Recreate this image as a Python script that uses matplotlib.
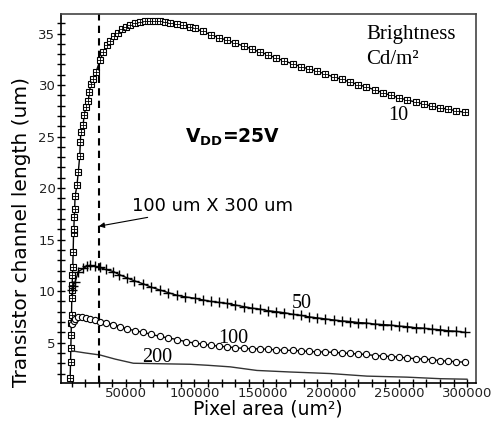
import matplotlib.pyplot as plt
from matplotlib.ticker import MultipleLocator

# Brightness 10 Cd/m2 (squares)
x10 = [9000, 9300, 9500, 9700, 9900, 10000, 10200, 10300, 10500, 10700,
       10900, 11200, 11500, 11700, 12000, 12300, 12600, 14000, 15000, 16000,
       16500, 16800, 18500, 19200, 20700, 22400, 22900, 24300, 26000, 28000,
       30900, 33300, 35800, 38300, 41200, 44000, 46800, 50000, 52900, 56500,
       60200, 64000, 67600, 71200, 74900, 78500, 82200, 87000, 92000, 96500,
       100600, 106000, 112000, 118000, 124000, 130000, 136000, 142000, 148000,
       154000, 160000, 166000, 172000, 178000, 184000, 190000, 196000, 202000,
       208000, 214000, 220000, 226000, 232000, 238000, 244000, 250000, 256000,
       262000, 268000, 274000, 280000, 286000, 292000, 298000]
y10 = [1.6, 3.1, 4.5, 5.7, 6.9, 7.7, 9.3, 10.1, 10.6, 11.6,
       12.3, 13.8, 15.6, 16.0, 17.2, 18.0, 19.2, 20.3, 21.6, 23.1,
       24.5, 25.4, 26.1, 27.1, 27.9, 28.5, 29.3, 30.1, 30.6, 31.3,
       32.4, 33.2, 33.9, 34.3, 34.8, 35.1, 35.4, 35.6, 35.8, 36.0,
       36.1, 36.2, 36.25, 36.25, 36.2, 36.1, 36.0, 35.9, 35.8, 35.6,
       35.5, 35.2, 34.9, 34.6, 34.35, 34.05, 33.8, 33.5, 33.2,
       32.95, 32.6, 32.35, 32.05, 31.8, 31.55, 31.35, 31.05, 30.8,
       30.55, 30.3, 30.05, 29.8, 29.55, 29.25, 29.0, 28.75, 28.55,
       28.35, 28.15, 27.95, 27.8, 27.65, 27.5, 27.35]

# Brightness 50 Cd/m2 (plus)
x50 = [10200, 11000, 12600, 15000, 18700, 21000, 23600, 27000, 30900, 35000,
       40700, 45000, 50500, 56000, 62700, 68000, 74900, 81000, 87200, 93000,
       100600, 106000, 112000, 118000, 124000, 130000, 136000, 142000, 148000,
       154000, 160000, 166000, 172000, 178000, 184000, 190000, 196000, 202000,
       208000, 214000, 220000, 226000, 232000, 238000, 244000, 250000, 256000,
       262000, 268000, 274000, 280000, 286000, 292000, 298000]
y50 = [10.1, 10.5, 10.9, 11.9, 12.2, 12.4, 12.5, 12.4, 12.3, 12.1,
       11.9, 11.6, 11.3, 11.0, 10.7, 10.4, 10.1, 9.85, 9.6, 9.45,
       9.3, 9.15, 9.0, 8.9, 8.8, 8.65, 8.5, 8.35, 8.25,
       8.1, 8.0, 7.9, 7.75, 7.65, 7.5, 7.4, 7.3, 7.2,
       7.1, 7.05, 6.95, 6.9, 6.8, 6.75, 6.7, 6.6, 6.55,
       6.45, 6.4, 6.3, 6.25, 6.15, 6.1, 6.0]

# Brightness 100 Cd/m2 (circles)
x100 = [10200, 11500, 12600, 15000, 17500, 20500, 23600, 27000, 30900, 35500,
        40700, 45500, 50500, 56500, 62700, 68500, 74900, 81000, 87200, 93500,
        100600, 106000, 112000, 118000, 124000, 130000, 136000, 142000, 148000,
        154000, 160000, 166000, 172000, 178000, 184000, 190000, 196000, 202000,
        208000, 214000, 220000, 226000, 232000, 238000, 244000, 250000, 256000,
        262000, 268000, 274000, 280000, 286000, 292000, 298000]
y100 = [6.8, 7.1, 7.3, 7.45, 7.5, 7.4, 7.3, 7.2, 7.05, 6.9,
        6.75, 6.55, 6.35, 6.15, 6.0, 5.8, 5.6, 5.45, 5.3, 5.1,
        4.95, 4.85, 4.75, 4.65, 4.6, 4.5, 4.45, 4.4, 4.4,
        4.35, 4.3, 4.25, 4.25, 4.2, 4.15, 4.1, 4.1, 4.05,
        4.0, 3.95, 3.9, 3.85, 3.75, 3.7, 3.65, 3.6, 3.5,
        3.45, 3.4, 3.35, 3.25, 3.2, 3.15, 3.1]

# Brightness 200 Cd/m2 (plain line)
x200 = [10200, 20000, 30900, 42000, 55300, 75000, 96900, 110000, 126200,
        145800, 170200, 199500, 226400, 255700, 280200, 299700]
y200 = [4.2, 4.0, 3.8, 3.4, 3.0, 2.95, 2.9, 2.8, 2.65,
        2.3, 2.15, 2.0, 1.75, 1.65, 1.5, 1.45]

PANEL_X = 30000  # 100 um x 300 um

fig = plt.figure(figsize=(4.92, 4.23), dpi=100)
ax = fig.add_axes([0.124, 0.095, 0.844, 0.872])

ax.plot(x10, y10, color="black", lw=1.0, marker="s", ms=4.5,
        mfc="white", mec="black", mew=0.8)
ax.plot(x10, y10, ls="none", marker="+", ms=4.5, mec="black", mew=0.6)
ax.plot(x50, y50, color="black", lw=1.0, marker="+", ms=6.5, mew=1.0)
ax.plot(x100, y100, color="black", lw=1.0, marker="o", ms=4.5,
        mfc="white", mec="black", mew=0.8)
ax.plot(x200, y200, color="#333333", lw=1.0)

ax.axvline(PANEL_X, color="black", ls=(0, (3.5, 2.5)), lw=1.5)

ax.set_xlim(2300, 306500)
ax.set_ylim(1.1, 36.9)
ax.xaxis.set_major_locator(MultipleLocator(50000))
ax.xaxis.set_minor_locator(MultipleLocator(10000))
ax.yaxis.set_major_locator(MultipleLocator(5))
ax.yaxis.set_minor_locator(MultipleLocator(1))
ax.tick_params(which="both", direction="inout", length=6, width=1.0,
               colors="black", labelcolor="#222222", labelsize=9.5, pad=1)
ax.tick_params(axis="x", pad=0)

for s in ax.spines.values():
    s.set_color("#444444")
    s.set_linewidth(1.2)
ax.spines["left"].set_color("black")
ax.spines["bottom"].set_color("black")

fig.text(0.545, 0.032, "Pixel area (um²)", fontsize=13.5,
         ha="center", va="center")
fig.text(0.043, 0.452, "Transistor channel length (um)", fontsize=14.5,
         rotation=90, ha="center", va="center")

serif = ["Liberation Serif", "DejaVu Serif"]
ax.text(226000, 34.9, "Brightness", family=serif, fontsize=15, va="center")
ax.text(226000, 32.5, "Cd/m²", family=serif, fontsize=15, va="center")
ax.text(249500, 27.0, "10", family=serif, fontsize=14.5, ha="center", va="center")
ax.text(178400, 8.8, "50", family=serif, fontsize=14.5, ha="center", va="center")
ax.text(128400, 5.4, "100", family=serif, fontsize=14.5, ha="center", va="center")
ax.text(72700, 3.6, "200", family=serif, fontsize=14.5, ha="center", va="center")

ax.text(93200, 24.9, "V$_{\\mathbf{DD}}$=25V", fontsize=13.5,
        fontweight="bold", va="center")
ax.annotate("100 um X 300 um", xy=(PANEL_X, 16.3), xytext=(54500, 18.3),
            fontsize=13, va="center",
            arrowprops=dict(arrowstyle="-|>", color="black", lw=0.8,
                            mutation_scale=8, shrinkA=0, shrinkB=0))

fig.savefig("out.png", dpi=100)
